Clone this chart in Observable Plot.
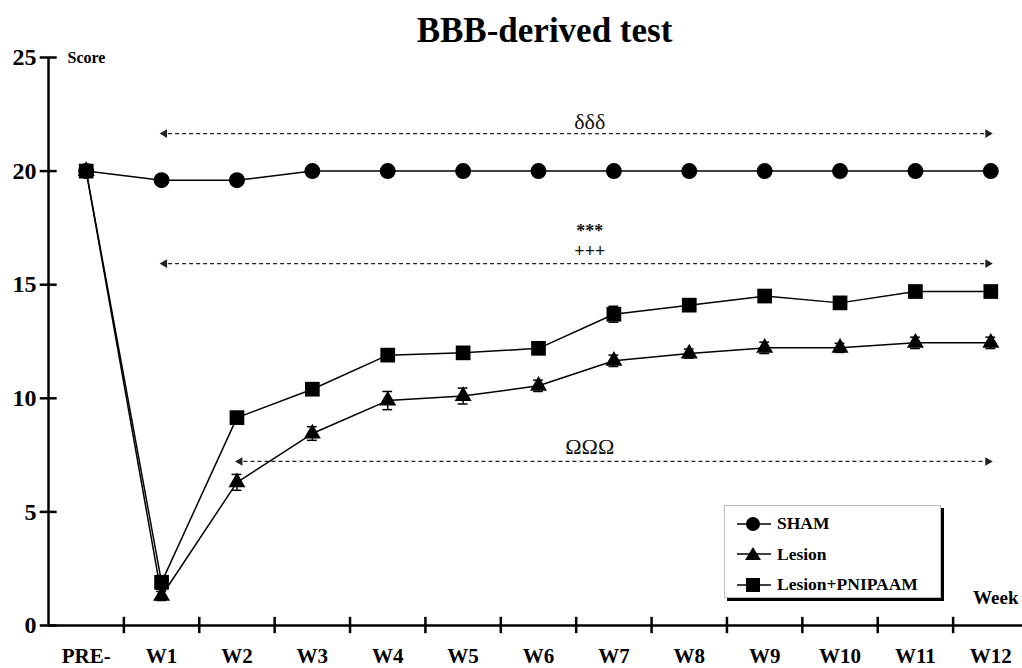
<!DOCTYPE html>
<html>
<head>
<meta charset="utf-8">
<script src="https://cdn.jsdelivr.net/npm/d3@7"></script>
<script src="https://cdn.jsdelivr.net/npm/@observablehq/plot@0.6"></script>
<style>
  html, body { margin: 0; padding: 0; background: #fff; }
  #wrap { position: relative; width: 1022px; height: 668px; font-family: "Liberation Serif", "Times New Roman", serif; }
  #legend { position: absolute; left: 724px; top: 505px; width: 217px; height: 93px; background: #fff;
    border: 1px solid #bbb; box-shadow: 3px 3px 0 #000; box-sizing: border-box; }
  .row { position: absolute; left: 12px; display: flex; align-items: center; font-weight: bold; font-size: 17.5px; }
  .row svg { margin-right: 6px; }
</style>
</head>
<body>
<div id="wrap"></div>
<script>
const categories = ["PRE-", "W1", "W2", "W3", "W4", "W5", "W6", "W7", "W8", "W9", "W10", "W11", "W12"];
const sham      = [20, 19.6, 19.6, 20, 20, 20, 20, 20, 20, 20, 20, 20, 20];
const shamSem   = [0, 0.1, 0.1, 0, 0, 0, 0, 0, 0, 0, 0, 0, 0];
const lesion    = [20, 1.3, 6.3, 8.45, 9.9, 10.1, 10.55, 11.65, 11.97, 12.22, 12.22, 12.44, 12.44];
const lesionSem = [0, 0.2, 0.35, 0.3, 0.4, 0.35, 0.25, 0.25, 0.2, 0.25, 0.2, 0.25, 0.25];
const pnipaam   = [20, 1.9, 9.15, 10.4, 11.9, 12.0, 12.2, 13.7, 14.1, 14.5, 14.2, 14.7, 14.7];
const pnipaamSem= [0, 0.3, 0.15, 0.15, 0.15, 0.15, 0.15, 0.35, 0.25, 0.2, 0.2, 0.2, 0.2];
const seriesNames = ["SHAM", "Lesion", "Lesion+PNIPAAM"];
const yTicks = [0, 5, 10, 15, 20, 25];
const brackets = [
  {label: "δδδ", y: 21.65, from: 1, to: 12},
  {label: "***", y: 15.93, from: 1, to: 12},
  {label: "ΩΩΩ", y: 7.22, from: 2, to: 12}
];
const bracketLabels = [
  {label: "δδδ", y: 22.15, bold: false},
  {label: "***", y: 17.36, bold: true},
  {label: "+++", y: 16.46, bold: true},
  {label: "ΩΩΩ", y: 7.85, bold: false}
];

const symbols = {"SHAM": "circle", "Lesion": "triangle", "Lesion+PNIPAAM": "square"};
const sizes = {"SHAM": 8, "Lesion": 6.3, "Lesion+PNIPAAM": 8.3};
const rows = [];
[[sham, shamSem], [lesion, lesionSem], [pnipaam, pnipaamSem]].forEach(([vals, sems], k) => {
  vals.forEach((v, i) => rows.push({series: seriesNames[k], i, v, sem: sems[i]}));
});
const errRows = rows.filter(d => d.sem > 0);
const capW = 0.065;

const chart = Plot.plot({
  width: 1022,
  height: 668,
  marginTop: 57,
  marginBottom: 43,
  marginLeft: 48,
  marginRight: 0,
  style: {fontFamily: "Liberation Serif", background: "#fff", overflow: "visible"},
  x: {type: "linear", domain: [-0.5, 12.5], range: [48, 1028], axis: null},
  y: {domain: [0, 25], axis: null},
  marks: [
    // title
    Plot.text(["BBB-derived test"], {frameAnchor: "top", dx: 9, dy: -40, fontSize: 35, fontWeight: "bold", fill: "#000"}),
    // axes
    Plot.ruleY([0], {stroke: "#000", strokeWidth: 2.5}),
    Plot.ruleX([-0.5], {y1: 0, y2: 25, stroke: "#000", strokeWidth: 2.5}),
    Plot.ruleY(yTicks, {y: d => d, x1: -0.5 - 0.11, x2: -0.5 + 0.115, stroke: "#000", strokeWidth: 2.5}),
    Plot.text(yTicks, {x: -0.5, y: d => d, dx: -12, textAnchor: "end", fontSize: 24, fontWeight: "bold", fill: "#000"}),
    Plot.ruleX(d3.range(0, 12), {x: d => d + 0.5, y1: -0.36, y2: 0.36, stroke: "#000", strokeWidth: 2.5}),
    Plot.text(categories, {x: (d, i) => i, y: 0, dy: 31, fontSize: 21, fontWeight: "bold", fill: "#000"}),
    Plot.text(["Score"], {x: -0.5, y: 25, dx: 19, textAnchor: "start", fontSize: 16, fontWeight: "bold", fill: "#000"}),
    Plot.text(["Week"], {frameAnchor: "bottom-right", dx: -4, dy: -22, textAnchor: "end", fontSize: 19, fontWeight: "bold", fill: "#000"}),
    // brackets
    Plot.ruleY(brackets, {y: "y", x1: "from", x2: "to", stroke: "#222", strokeWidth: 1.2, strokeDasharray: "4,3"}),
    Plot.dot(brackets, {x: "from", y: "y", symbol: "triangle", r: 3.2, fill: "#222", rotate: -90, dx: 3}),
    Plot.dot(brackets, {x: "to", y: "y", symbol: "triangle", r: 3.2, fill: "#222", rotate: 90, dx: -3}),
    Plot.text(bracketLabels.filter(d => !d.bold), {x: 6.68, y: "y", text: "label", fontSize: 22, fill: "#111"}),
    Plot.text(bracketLabels.filter(d => d.bold), {x: 6.68, y: "y", text: "label", fontSize: 18, fontWeight: "bold", fill: "#111"}),
    // error bars
    Plot.ruleX(errRows, {x: "i", y1: d => d.v - d.sem, y2: d => d.v + d.sem, stroke: "#000", strokeWidth: 1.5}),
    Plot.ruleY(errRows, {x1: d => d.i - capW, x2: d => d.i + capW, y: d => d.v + d.sem, stroke: "#000", strokeWidth: 1.5}),
    Plot.ruleY(errRows, {x1: d => d.i - capW, x2: d => d.i + capW, y: d => d.v - d.sem, stroke: "#000", strokeWidth: 1.5}),
    // lines
    Plot.line(rows, {x: "i", y: "v", z: "series", stroke: "#000", strokeWidth: 1.5}),
    // markers
    ...seriesNames.map(s => Plot.dot(rows.filter(d => d.series === s), {x: "i", y: "v", symbol: symbols[s], r: sizes[s], fill: "#000", stroke: "none"}))
  ]
});
const wrap = document.getElementById("wrap");
wrap.appendChild(chart);

// legend
const legend = document.createElement("div");
legend.id = "legend";
const icon = {
  "SHAM": '<circle cx="16" cy="9" r="7" fill="#000"/>',
  "Lesion": '<path d="M16,2 L24,15 L8,15 Z" fill="#000"/>',
  "Lesion+PNIPAAM": '<rect x="9" y="2" width="14" height="14" fill="#000"/>'
};
seriesNames.forEach((s, k) => {
  const r = document.createElement("div");
  r.className = "row";
  r.style.top = (7 + k * 30.5) + "px";
  r.innerHTML = `<svg width="34" height="18"><line x1="0" x2="34" y1="9" y2="9" stroke="#000" stroke-width="1.5"/>${icon[s]}</svg><span>${s}</span>`;
  legend.appendChild(r);
});
wrap.appendChild(legend);
</script>
</body>
</html>
